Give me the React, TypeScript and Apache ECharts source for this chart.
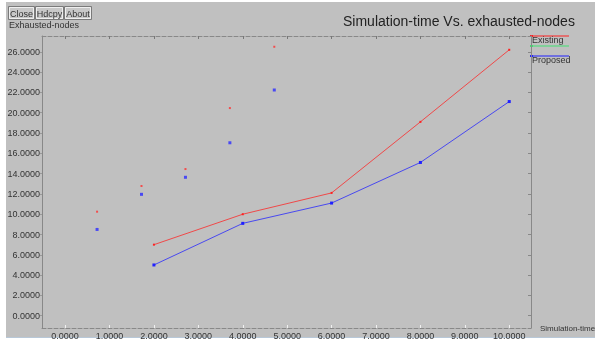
import React, { useEffect, useRef } from "react";
import * as echarts from "echarts";

const xTicks = [0, 1, 2, 3, 4, 5, 6, 7, 8, 9, 10];
const yTicks = [0, 2, 4, 6, 8, 10, 12, 14, 16, 18, 20, 22, 24, 26];

const existingLine: [number, number][] = [[2, 7], [4, 10], [6, 12.1], [8, 19.1], [10, 26.2]];
const proposedLine: [number, number][] = [[2, 5], [4, 9.1], [6, 11.1], [8, 15.1], [10, 21.1]];
const existingPoints: [number, number][] = [[0.72, 10.25], [1.72, 12.78], [2.71, 14.45], [3.71, 20.46], [4.71, 26.5]];
const proposedPoints: [number, number][] = [[0.72, 8.5], [1.72, 11.96], [2.71, 13.64], [3.71, 17.04], [4.71, 22.24]];

const legendNames = ["Existing", "", "Proposed"];
const legendColors = ["#ff2020", "#40e070", "#2020ff"];
const buttons = ["Close", "Hdcpy", "About"];

const FONT = "Liberation Sans, Arial, sans-serif";

export default function App() {
  const ref = useRef<HTMLDivElement>(null);
  useEffect(() => {
    if (!ref.current) return;
    const chart = echarts.init(ref.current, null, { renderer: "svg" });
    const fmt = (v: number) => v.toFixed(4);
    const btnX = [8, 35, 64];
    const btnW = [26, 28, 27];
    const graphics: any[] = [
      { type: "rect", z: -10, shape: { x: 0, y: 0, width: 597, height: 340 }, style: { fill: "#ffffff" }, silent: true },
      { type: "rect", z: -9, shape: { x: 6, y: 2, width: 589, height: 335 }, style: { fill: "#c0c0c0" }, silent: true },
      { type: "line", z: -8, shape: { x1: 6, y1: 337.5, x2: 595, y2: 337.5 }, style: { stroke: "#b8c8d8", lineWidth: 1 } },
    ];
    buttons.forEach((b, i) => {
      graphics.push({
        type: "rect",
        shape: { x: btnX[i] + 0.5, y: 6.5, width: btnW[i], height: 13 },
        style: { fill: "#c8c8c8", stroke: "#7a7a7a", lineWidth: 1 },
      });
      graphics.push({
        type: "rect",
        shape: { x: btnX[i] + 1.5, y: 7.5, width: btnW[i] - 2, height: 11 },
        style: { fill: "none", stroke: "#efefef", lineWidth: 1 },
      });
      graphics.push({
        type: "text",
        x: btnX[i] + btnW[i] / 2 + 0.5,
        y: 13.5,
        style: { text: b, fill: "#333", font: `9px ${FONT}`, align: "center", verticalAlign: "middle" },
      });
    });
    graphics.push({
      type: "text", x: 9, y: 25,
      style: { text: "Exhausted-nodes", fill: "#333", font: `9px ${FONT}`, verticalAlign: "middle" },
    });
    graphics.push({
      type: "text", x: 540, y: 328,
      style: { text: "Simulation-time", fill: "#333", font: `8px ${FONT}`, verticalAlign: "middle" },
    });
    legendNames.forEach((n, i) => {
      const y = 36 + i * 10;
      graphics.push({ type: "line", shape: { x1: 531, y1: y, x2: 569, y2: y }, style: { stroke: legendColors[i], lineWidth: 1 } });
      graphics.push({ type: "rect", shape: { x: 530, y: y - 1, width: 3, height: 2 }, style: { fill: legendColors[i] } });
      if (n) {
        graphics.push({
          type: "text", x: 532, y: y + 4,
          style: { text: n, fill: "#333", font: `9px ${FONT}`, verticalAlign: "middle" },
        });
      }
    });

    const xCommon = {
      type: "value" as const,
      min: -0.52,
      max: 10.49,
      splitLine: { show: false },
    };
    const yCommon = {
      type: "value" as const,
      min: -1.21,
      max: 27.56,
      splitLine: { show: false },
    };

    chart.setOption({
      animation: false,
      title: {
        text: "Simulation-time Vs. exhausted-nodes",
        left: 338,
        top: 9,
        textStyle: { fontFamily: FONT, fontSize: 14, fontWeight: "normal", color: "#222" },
      },
      grid: { left: 42, right: 66, top: 36, bottom: 12 },
      graphic: graphics,
      xAxis: [
        {
          ...xCommon,
          position: "bottom",
          axisLine: { show: true, onZero: false, lineStyle: { color: "#888", type: [4, 2], width: 1 } },
          axisTick: { show: true, inside: true, length: 3, customValues: xTicks, lineStyle: { color: "#f0f0f0" } },
          axisLabel: { show: true, customValues: xTicks, formatter: fmt, margin: 3, fontSize: 9, fontFamily: FONT, color: "#333" },
        },
        {
          ...xCommon,
          position: "top",
          axisLine: { show: true, onZero: false, lineStyle: { color: "#888", type: [4, 2], width: 1 } },
          axisTick: { show: true, inside: true, length: 3, customValues: xTicks, lineStyle: { color: "#777" } },
          axisLabel: { show: false },
        },
      ],
      yAxis: [
        {
          ...yCommon,
          position: "left",
          axisLine: { show: true, onZero: false, lineStyle: { color: "#888", width: 1 } },
          axisTick: { show: true, inside: false, length: 2, customValues: yTicks, lineStyle: { color: "#999" } },
          axisLabel: { show: true, customValues: yTicks, formatter: fmt, margin: 2, fontSize: 9, fontFamily: FONT, color: "#333" },
        },
        {
          ...yCommon,
          position: "right",
          axisLine: { show: true, onZero: false, lineStyle: { color: "#888", width: 1 } },
          axisTick: { show: true, inside: true, length: 3, customValues: yTicks, lineStyle: { color: "#888" } },
          axisLabel: { show: false },
        },
      ],
      series: [
        {
          name: "Existing",
          type: "line",
          data: existingLine,
          symbol: "rect",
          symbolSize: 2,
          itemStyle: { color: "#ff2020" },
          lineStyle: { color: "#ff2020", width: 1, opacity: 0.75 },
        },
        {
          name: "Proposed",
          type: "line",
          data: proposedLine,
          symbol: "rect",
          symbolSize: 3,
          itemStyle: { color: "#2020ff" },
          lineStyle: { color: "#2020ff", width: 1, opacity: 0.75 },
        },
        {
          name: "Existing points",
          type: "scatter",
          data: existingPoints,
          symbol: "rect",
          symbolSize: 2,
          itemStyle: { color: "#ff3030", opacity: 0.8 },
        },
        {
          name: "Proposed points",
          type: "scatter",
          data: proposedPoints,
          symbol: "rect",
          symbolSize: 3,
          itemStyle: { color: "#2a2aff", opacity: 0.8 },
        },
      ],
    });
    return () => chart.dispose();
  }, []);
  return <div ref={ref} style={{ position: "fixed", left: 0, top: 0, width: 597, height: 340 }} />;
}
